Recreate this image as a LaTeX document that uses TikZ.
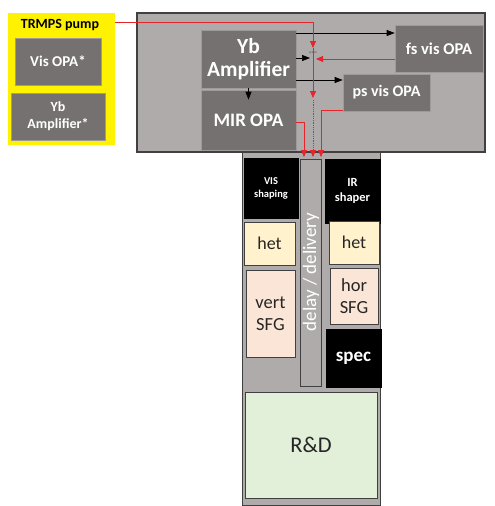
\documentclass[tikz,border=0pt]{standalone}
\usepackage{fontspec}
\setmainfont{Carlito}
\usetikzlibrary{arrows.meta}
\definecolor{dgray}{HTML}{767171}
\definecolor{lgray}{HTML}{AFABAB}
\definecolor{hetc}{HTML}{FFF2CC}
\definecolor{sfgc}{HTML}{FBE5D6}
\definecolor{rdc}{HTML}{E2F0D9}
\definecolor{edge}{HTML}{404040}
\definecolor{redl}{HTML}{E8242A}
\tikzset{
  gbox/.style={fill=dgray, draw=lgray!70!dgray, line width=0.6pt, text=white, font=\bfseries, align=center, inner sep=1pt},
  kbox/.style={fill=black, draw=black, text=white, font=\bfseries, align=center, inner sep=1pt},
  pbox/.style={draw=edge, line width=0.9pt, align=center, inner sep=1pt, text=black!85},
  blk/.style={draw=black, line width=0.7pt, -{Triangle[length=8pt,width=6pt]}},
  rd/.style={draw=redl, line width=0.8pt, -{Triangle[length=7pt,width=6pt]}},
  rdn/.style={draw=redl, line width=0.8pt},
}
\begin{document}
\begin{tikzpicture}[x=1pt,y=-1pt]
\useasboundingbox (0,0) rectangle (495,506);
% yellow group
\node[fill=yellow, minimum width=107pt, minimum height=132pt, inner sep=0pt] (yel) at (61.5,79) {};
\node[font=\bfseries\fontsize{14}{16}\selectfont, inner sep=0pt] (pump) at (60,25) {TRMPS pump};
\node[gbox, minimum width=86pt, minimum height=47pt, font=\bfseries\fontsize{15}{17}\selectfont] (visopa) at (58,61.5) {Vis OPA*};
\node[gbox, minimum width=94pt, minimum height=47pt, font=\bfseries\fontsize{14}{17}\selectfont] (ybstar) at (58,116.5) {Yb\\Amplifier*};
% big gray box
\node[fill=lgray, draw=edge, line width=1.3pt, minimum width=348pt, minimum height=139pt, inner sep=0pt] (big) at (311,82.5) {};
% lower panel
\node[fill=lgray, draw=edge, line width=1pt, minimum width=138pt, minimum height=353pt, inner sep=0pt] (panel) at (311,328.5) {};
% boxes in big
\node[gbox, minimum width=95pt, minimum height=58pt, font=\bfseries\fontsize{21.5}{23}\selectfont] (yb) at (248.5,59) {Yb\\Amplifier};
\node[gbox, minimum width=95pt, minimum height=60pt, font=\bfseries\fontsize{19}{21}\selectfont] (mir) at (248.5,120) {MIR OPA};
\node[gbox, minimum width=88pt, minimum height=47pt, font=\bfseries\fontsize{16.5}{18}\selectfont] (fs) at (439,48.5) {fs vis OPA};
\node[gbox, minimum width=87pt, minimum height=37pt, font=\bfseries\fontsize{16}{18}\selectfont] (ps) at (386.5,92.5) {ps vis OPA};
\node[font=\fontsize{3}{3}\selectfont, text=black!80, inner sep=0pt] (cyt) at (313,52.5) {cytom};
% lower boxes
\node[kbox, minimum width=54pt, minimum height=60pt, font=\bfseries\fontsize{10.5}{13}\selectfont] (vis) at (271,188) {VIS\\shaping};
\node[fill=lgray, draw=edge, line width=0.9pt, minimum width=21pt, minimum height=227pt, inner sep=0pt] (delay) at (310.5,272.5) {};
\node[rotate=90, text=white, font=\fontsize{19}{21}\selectfont] at (311,272) {delay / delivery};
\node[kbox, minimum width=55pt, minimum height=64pt, font=\bfseries\fontsize{12.5}{15}\selectfont] (irs) at (352.5,191) {IR\\shaper};
\node[pbox, fill=hetc, minimum width=51pt, minimum height=43pt, font=\fontsize{18}{20}\selectfont] (hetl) at (269.5,243.5) {het};
\node[pbox, fill=hetc, minimum width=50pt, minimum height=43pt, font=\fontsize{18}{20}\selectfont] (hetr) at (354,242.5) {het};
\node[pbox, fill=sfgc, minimum width=49pt, minimum height=87pt, font=\fontsize{18.5}{22}\selectfont] (vert) at (270.5,313.5) {vert\\SFG};
\node[pbox, fill=sfgc, minimum width=48pt, minimum height=56pt, font=\fontsize{18.5}{22}\selectfont] (hor) at (354,296) {hor\\SFG};
\node[kbox, minimum width=55pt, minimum height=58pt, font=\bfseries\fontsize{19}{21}\selectfont] (spec) at (353.5,358) {spec};
\node[pbox, fill=rdc, minimum width=132pt, minimum height=106pt, font=\fontsize{22.5}{24}\selectfont] (rd) at (311,445) {R\&D};
% coordinates
\coordinate (c1) at (313,22);
\coordinate (c2) at (313,48);
\coordinate (c3) at (313,98);
\coordinate (c4) at (313,100);
\coordinate (c5) at (313,157);
\coordinate (m1) at (304,122);
\coordinate (m2) at (304,157);
\coordinate (p1) at (321,110);
\coordinate (p2) at (321,157);
\coordinate (bt) at (310,58);
\coordinate (rt) at (316,59);
% black arrows
\draw[blk] (yb.east |- 0,33) -- (fs.west |- 0,33);
\draw[blk] (yb.east |- 0,58) -- (bt);
\draw[blk] (yb.east |- 0,80) -- (ps.west |- 0,80);
\draw[blk] (yb.south) -- ([yshift=-10pt]mir.north);
% red arrows
\draw[rd] (yel.east |- c1) -- (c1) -- (c2);
\draw[rd] (c2) -- (c3);
\draw[rd] (fs.west |- rt) -- (rt);
\draw[rdn, densely dotted] (c4) -- ([yshift=6pt]c5);
\draw[rd] ([yshift=6pt]c5) -- (c5);
\draw[rd] (mir.east |- m1) -- (m1) -- (m2);
\draw[rd] (ps.west |- p1) -- (p1) -- (p2);
\end{tikzpicture}
\end{document}
